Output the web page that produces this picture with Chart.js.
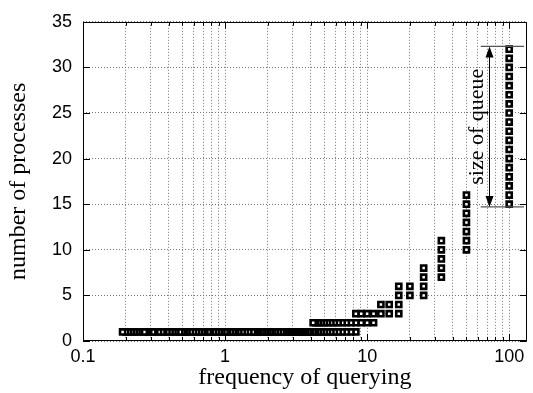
<!DOCTYPE html>
<html>
<head>
<meta charset="utf-8">
<script src="https://cdn.jsdelivr.net/npm/chart.js@4"></script>
<style>
  html, body { margin: 0; padding: 0; background: #fff; }
</style>
</head>
<body>
<canvas id="chart" width="533" height="393"></canvas>
<script>
// frequencies where the markers stack up, with lowest / highest process count seen
const stackFreq = [100, 50, 33.3, 25, 20, 16.7, 14.3, 12.5, 11.1, 10, 9.09, 8.33,
    7.69, 7.14, 6.67, 6.25, 5.88, 5.56, 5.26, 5.0, 4.76, 4.55, 4.35, 4.17];
const stackLow = [15, 10, 7, 5, 5, 3, 3, 3, 2, 2, 2, 1,
    1, 1, 1, 1, 1, 1, 1, 1, 1, 1, 1, 1];
const stackHigh = [32, 16, 11, 8, 6, 6, 4, 4, 3, 3, 3, 3,
    2, 2, 2, 2, 2, 2, 2, 2, 2, 2, 2, 2];

// the low frequencies, all at one process
const singleFreq = [4.0, 3.85, 3.7, 3.57, 3.45, 3.33, 3.23, 3.13, 3.03, 2.94, 2.86, 2.78,
    2.7, 2.63, 2.56, 2.5, 2.38, 2.27, 2.17, 2.08, 2.0, 1.92, 1.85, 1.79, 1.72, 1.67,
    1.61, 1.56, 1.47, 1.39, 1.32, 1.25, 1.19, 1.14, 1.09, 1.04, 1.0, 0.95, 0.91, 0.87,
    0.83, 0.79, 0.76, 0.72, 0.69, 0.66, 0.63, 0.6, 0.57, 0.54, 0.52, 0.5, 0.48, 0.45,
    0.43, 0.41, 0.39, 0.37, 0.36, 0.34, 0.32, 0.31, 0.29, 0.28, 0.27, 0.25, 0.24, 0.23,
    0.22, 0.21, 0.2, 0.19];

const xTickValues = [0.1, 0.2, 0.3, 0.4, 0.5, 0.6, 0.7, 0.8, 0.9,
    1, 2, 3, 4, 5, 6, 7, 8, 9,
    10, 20, 30, 40, 50, 60, 70, 80, 90, 100];
const xLabelValues = [0.1, 1, 10, 100];

// "size of queue" bracket, in data units
const queueTop = 32.3;
const queueBottom = 14.7;
const queueArrowX = 72;
const queueBarFrom = 63;
const queueBarTo = 127;
const queueLabelX = 60;

const points = [];
stackFreq.forEach((f, i) => {
    for (let n = stackLow[i]; n <= stackHigh[i]; n++) {
        points.push({ x: f, y: n });
    }
});
singleFreq.forEach(f => points.push({ x: f, y: 1 }));


const framePlugin = {
    id: 'frame',
    afterDatasetsDraw(chart) {
        const { ctx, chartArea: a, scales: { x, y } } = chart;
        ctx.save();
        ctx.strokeStyle = '#000';
        ctx.lineWidth = 1;

        // inward ticks, mirrored
        ctx.beginPath();
        xTickValues.forEach(v => {
            const px = Math.round(x.getPixelForValue(v)) + 0.5;
            const len = xLabelValues.includes(v) ? 7 : 4;
            ctx.moveTo(px, a.bottom); ctx.lineTo(px, a.bottom - len);
            ctx.moveTo(px, a.top); ctx.lineTo(px, a.top + len);
        });
        y.ticks.forEach(t => {
            const py = Math.round(y.getPixelForValue(t.value)) + 0.5;
            ctx.moveTo(a.left, py); ctx.lineTo(a.left + 7, py);
            ctx.moveTo(a.right, py); ctx.lineTo(a.right - 7, py);
        });
        ctx.stroke();

        ctx.strokeRect(Math.round(a.left) + 0.5, Math.round(a.top) + 0.5,
            Math.round(a.width) - 1, Math.round(a.height) - 1);

        // queue size bracket
        const ax = Math.round(x.getPixelForValue(queueArrowX)) + 0.5;
        const yt = y.getPixelForValue(queueTop);
        const yb = y.getPixelForValue(queueBottom);
        const bx0 = x.getPixelForValue(queueBarFrom);
        const bx1 = x.getPixelForValue(queueBarTo);

        ctx.strokeStyle = '#555';
        ctx.lineWidth = 1.3;
        ctx.beginPath();
        ctx.moveTo(bx0, yt); ctx.lineTo(bx1, yt);
        ctx.moveTo(bx0, yb); ctx.lineTo(bx1, yb);
        ctx.stroke();

        ctx.strokeStyle = '#000';
        ctx.lineWidth = 1;
        ctx.beginPath();
        ctx.moveTo(ax, yt + 4); ctx.lineTo(ax, yb - 4);
        ctx.stroke();

        ctx.fillStyle = '#000';
        ctx.beginPath();
        ctx.moveTo(ax, yt); ctx.lineTo(ax - 4, yt + 11); ctx.lineTo(ax + 4, yt + 11);
        ctx.closePath();
        ctx.moveTo(ax, yb); ctx.lineTo(ax - 4, yb - 11); ctx.lineTo(ax + 4, yb - 11);
        ctx.closePath();
        ctx.fill();

        ctx.translate(x.getPixelForValue(queueLabelX), (yt + yb) / 2);
        ctx.rotate(-Math.PI / 2);
        ctx.font = '22px "Liberation Serif", "Times New Roman", serif';
        ctx.textAlign = 'center';
        ctx.textBaseline = 'middle';
        ctx.fillText('size of queue', 0, 0);
        ctx.restore();
    }
};


const tickFont = { family: '"Liberation Sans", Arial, sans-serif', size: 18 };
const titleFont = { family: '"Liberation Serif", "Times New Roman", serif', size: 24 };

new Chart(document.getElementById('chart'), {
    type: 'scatter',
    data: {
        datasets: [{
            data: points,
            pointStyle: 'rect',
            pointRadius: 3.6,
            pointHoverRadius: 3.6,
            borderWidth: 2.6,
            borderColor: '#000',
            backgroundColor: '#fff'
        }]
    },
    options: {
        responsive: false,
        animation: false,
        events: [],
        layout: { padding: { top: 15, right: 3, left: 0, bottom: 0 } },
        plugins: {
            legend: { display: false },
            tooltip: { enabled: false }
        },
        scales: {
            x: {
                type: 'logarithmic',
                min: 0.1,
                max: 133,
                afterBuildTicks(scale) {
                    scale.ticks = xTickValues.map(v => ({ value: v }));
                },
                afterFit(scale) { scale.height = 52; },
                ticks: {
                    autoSkip: false,
                    maxRotation: 0,
                    padding: 5,
                    color: '#000',
                    font: tickFont,
                    callback: v => xLabelValues.includes(v) ? String(v) : ''
                },
                grid: { color: '#777', lineWidth: 1, drawTicks: false },
                border: { display: false, dash: [1, 2] },
                title: {
                    display: true,
                    text: 'frequency of querying',
                    color: '#000',
                    font: titleFont,
                    padding: { top: 0, bottom: 1 }
                }
            },
            y: {
                min: 0,
                max: 35,
                afterFit(scale) { scale.width = 83; },
                ticks: {
                    stepSize: 5,
                    padding: 11,
                    color: '#000',
                    font: tickFont
                },
                grid: { color: '#777', lineWidth: 1, drawTicks: false },
                border: { display: false, dash: [1, 2] },
                title: {
                    display: true,
                    text: 'number of processes',
                    color: '#000',
                    font: titleFont,
                    padding: { top: 4, bottom: 0 }
                }
            }
        }
    },
    plugins: [framePlugin]
});
</script>
</body>
</html>
